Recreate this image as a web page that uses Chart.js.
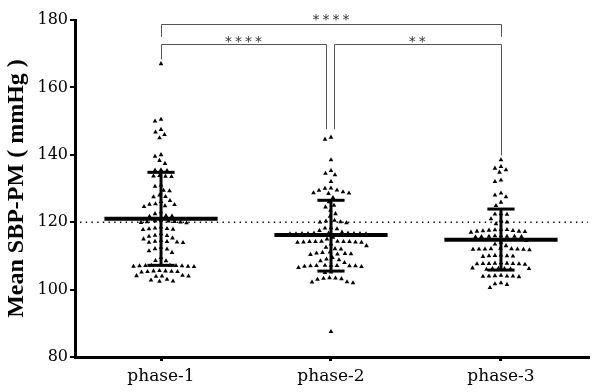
<!DOCTYPE html>
<html>
<head>
<meta charset="utf-8">
<script src="https://cdn.jsdelivr.net/npm/chart.js@4.4.1/dist/chart.umd.min.js"></script>
<style>
  html, body { margin: 0; padding: 0; background: #fff; }
  #wrap { width: 600px; height: 392px; }
</style>
</head>
<body>
<div id="wrap"><canvas id="chart"></canvas></div>
<script>
// Data
const groups = ['phase-1', 'phase-2', 'phase-3'];

const phase1 = [
  167,
  150.5, 150, 147.5, 146.7, 146, 145,
  140, 139.5, 138.3, 137.4,
  135.4, 135.3, 135.5,
  133.8, 133.7, 133.6, 133.5,
  131, 130.6, 129.4, 129.3, 128, 127.6, 127.5, 126.4, 126.1,
  125.3, 125.2, 125.4, 124.8, 124.6,
  123, 122.5,
  121.8, 121.7, 121.9,
  120.3, 120.2, 120, 119.8, 120.1, 120.4, 120.5, 119.9,
  118.5, 118, 118.1, 117.8, 118.2, 117.9,
  116.5, 116, 116.1, 115.8,
  115.3, 115, 114.5,
  114.2, 114, 114.1, 113.9, 114.3,
  112.5, 112, 111.5, 112.1, 111,
  109.5, 108.6, 108.5,
  107.2, 107, 107.1, 106.9, 107.3, 107, 106.8, 107.2, 107.1, 106.9,
  105.5, 105.3, 105.2, 105.6, 105.4, 105.3, 105.5,
  104.2, 104, 103.9, 104.1, 104,
  103, 102.8, 102.5, 102.4
];

const phase2 = [
  145.2, 144.6,
  138.5,
  135.3, 134.5, 134,
  132,
  130, 130.1, 129.5, 129.4, 129, 128.5, 128.6, 128.7,
  127.3,
  126, 125, 124.5,
  123.5, 122.5, 121.7,
  120.5, 120, 120.3, 120.1, 119.8,
  118.3, 118, 118.2, 117.5, 117,
  116.6, 116.5, 116.7, 116.6, 116.5, 116.7, 116.6, 116.5, 116.6, 116.7,
  115.5, 115,
  114.2, 114.1, 114.3, 114.2, 114, 114.2, 114.3, 114.1, 114.2, 114,
  113.5, 113, 112.5, 112, 112.1,
  111, 110.8, 110.5, 110.6, 110.4, 111.1, 110.7,
  109.5, 109, 108.8, 108.5, 108,
  107, 107.1, 107.2, 106.9, 107.2, 107, 106.8, 107.1, 107, 106.5,
  105.2, 105,
  103.5, 103.2, 103, 103.4, 103.3,
  102.3, 102, 102.2,
  87.5
];

const phase3 = [
  138.5,
  136.5, 136, 135.5, 134.8,
  132.5, 132,
  128.6, 128, 127.5,
  125.9, 124.9,
  122.5, 122.4, 122.3,
  121, 120.5, 120, 119.5,
  117.7, 117.5, 117.3, 117.4, 117.8, 117.2, 117.6, 117, 117.3, 117.9,
  115.8, 115.7, 115.9, 115.8, 115.6, 115.8, 115.9, 115.7,
  114.5, 114, 113.5, 113,
  112, 112.1, 111.9, 112, 112.2, 111.8, 112, 112.1, 111.9,
  110, 110.1, 109.9, 110, 110.2, 109.8,
  107.7, 107.6, 107.8, 107.7, 107.5, 107.9, 107.7, 107.6, 107.8,
  106.2, 106.1, 106.3, 106.2, 106, 106.4, 106.2,
  104, 104.1, 103.9, 104, 104.2, 103.8, 104,
  102, 101.7, 101.5,
  100.6
];

const means = [121, 116.2, 114.8];
const sdLow = [107.2, 105.5, 105.8];
const sdHigh = [134.8, 126.5, 123.9];
const refValue = 120;
const yTicks = [80, 100, 120, 140, 160, 180];

// comparisons: from group, to group, label
const compFrom = [0, 0, 1];
const compTo = [2, 1, 2];
const compLabel = ['****', '****', '**'];

// simple beeswarm so triangles don't overlap
const PX_X = 170, PX_Y = 3.37, DOT = 5.9;
function swarm(values, center) {
  const placed = [];
  const out = [];
  const sorted = values.slice().sort((a, b) => b - a);
  sorted.forEach(v => {
    const py = v * PX_Y;
    let best = 0;
    for (let k = 0; k < 400; k++) {
      const off = (k % 2 === 0 ? 1 : -1) * Math.ceil(k / 2) * 0.5;
      const ok = placed.every(p => {
        const dx = p.x - off, dy = p.y - py;
        return dx * dx + dy * dy >= DOT * DOT;
      });
      if (ok) { best = off; break; }
    }
    placed.push({x: best, y: py});
    out.push({x: center + best / PX_X, y: v});
  });
  return out;
}

const allGroups = [phase1, phase2, phase3];
const datasets = [];

// dotted reference line
datasets.push({
  type: 'line', data: [{x: -0.51, y: refValue}, {x: 2.52, y: refValue}],
  borderColor: '#000', borderWidth: 1.4, borderDash: [1.4, 4.3],
  pointRadius: 0, order: 3
});

allGroups.forEach((vals, i) => {
  datasets.push({
    data: swarm(vals, i),
    pointStyle: 'triangle', pointRadius: 2.7,
    backgroundColor: '#000', borderColor: '#000', borderWidth: 0,
    order: 2
  });
  // mean bar
  datasets.push({
    type: 'line', data: [{x: i - 0.333, y: means[i]}, {x: i + 0.333, y: means[i]}],
    borderColor: '#000', borderWidth: 4, pointRadius: 0, order: 0
  });
  // SD whisker with caps
  datasets.push({
    type: 'line',
    data: [{x: i, y: sdLow[i]}, {x: i, y: sdHigh[i]}],
    borderColor: '#000', borderWidth: 3, pointRadius: 0, order: 1
  });
  datasets.push({
    type: 'line', data: [{x: i - 0.08, y: sdHigh[i]}, {x: i + 0.08, y: sdHigh[i]}],
    borderColor: '#000', borderWidth: 3, pointRadius: 0, order: 1
  });
  datasets.push({
    type: 'line', data: [{x: i - 0.08, y: sdLow[i]}, {x: i + 0.08, y: sdLow[i]}],
    borderColor: '#000', borderWidth: 3, pointRadius: 0, order: 1
  });
});

// significance brackets
const bracketPlugin = {
  id: 'brackets',
  afterDraw(chart) {
    const {ctx} = chart;
    const x = chart.scales.x, y = chart.scales.y;
    // level, left drop, right drop, x inset left, x inset right, label level
    const geo = [
      [178.8, 175, 175, 0, 0, 181.2],
      [172.8, 168.3, 147.6, 0, -0.03, 174.8],
      [172.8, 147.6, 139.8, 0.015, 0, 174.8]
    ];
    ctx.save();
    ctx.strokeStyle = '#555';
    ctx.lineWidth = 1;
    compFrom.forEach((f, k) => {
      const g = geo[k];
      const x1 = x.getPixelForValue(f + g[3]);
      const x2 = x.getPixelForValue(compTo[k] + g[4]);
      const yl = Math.round(y.getPixelForValue(g[0])) + 0.5;
      ctx.beginPath();
      ctx.moveTo(Math.round(x1) + 0.5, y.getPixelForValue(g[1]));
      ctx.lineTo(Math.round(x1) + 0.5, yl);
      ctx.lineTo(Math.round(x2) + 0.5, yl);
      ctx.lineTo(Math.round(x2) + 0.5, y.getPixelForValue(g[2]));
      ctx.stroke();
      // stars
      const cx = (x1 + x2) / 2;
      const cy = y.getPixelForValue(g[5]);
      const n = compLabel[k].length;
      ctx.fillStyle = '#333';
      ctx.font = '14px "DejaVu Sans"';
      ctx.textAlign = 'center';
      ctx.textBaseline = 'alphabetic';
      for (let s = 0; s < n; s++) {
        ctx.fillText('*', cx + (s - (n - 1) / 2) * 10, cy + 8);
      }
    });
    ctx.restore();
  }
};

new Chart(document.getElementById('chart'), {
  type: 'scatter',
  data: {datasets: datasets},
  options: {
    responsive: true,
    maintainAspectRatio: false,
    animation: false,
    layout: {padding: {top: 20, right: 12, left: 0, bottom: 0}},
    plugins: {legend: {display: false}, tooltip: {enabled: false}},
    scales: {
      x: {
        type: 'linear', min: -0.506, max: 2.512,
        afterBuildTicks: s => { s.ticks = groups.map((g, i) => ({value: i})); },
        afterFit: s => { s.height = 35; },
        ticks: {
          callback: v => groups[v],
          color: '#000', padding: 5,
          font: {family: '"DejaVu Serif"', size: 17}
        },
        grid: {drawOnChartArea: false, drawTicks: true, tickLength: 4, lineWidth: 3, color: '#000'},
        border: {width: 3, color: '#000'}
      },
      y: {
        min: 80, max: 180,
        afterBuildTicks: s => { s.ticks = yTicks.map(v => ({value: v})); },
        afterFit: s => { s.width = 75; },
        ticks: {
          color: '#000', padding: 2,
          font: {family: '"DejaVu Serif"', size: 16}
        },
        grid: {drawOnChartArea: false, drawTicks: true, tickLength: 5, lineWidth: 2, color: '#000'},
        border: {width: 3, color: '#000'},
        title: {
          display: true, text: 'Mean SBP-PM ( mmHg )', color: '#000',
          font: {family: '"Liberation Serif"', size: 24, weight: 'bold'},
          padding: {top: 2, bottom: 0}
        }
      }
    }
  },
  plugins: [bracketPlugin]
});
</script>
</body>
</html>
